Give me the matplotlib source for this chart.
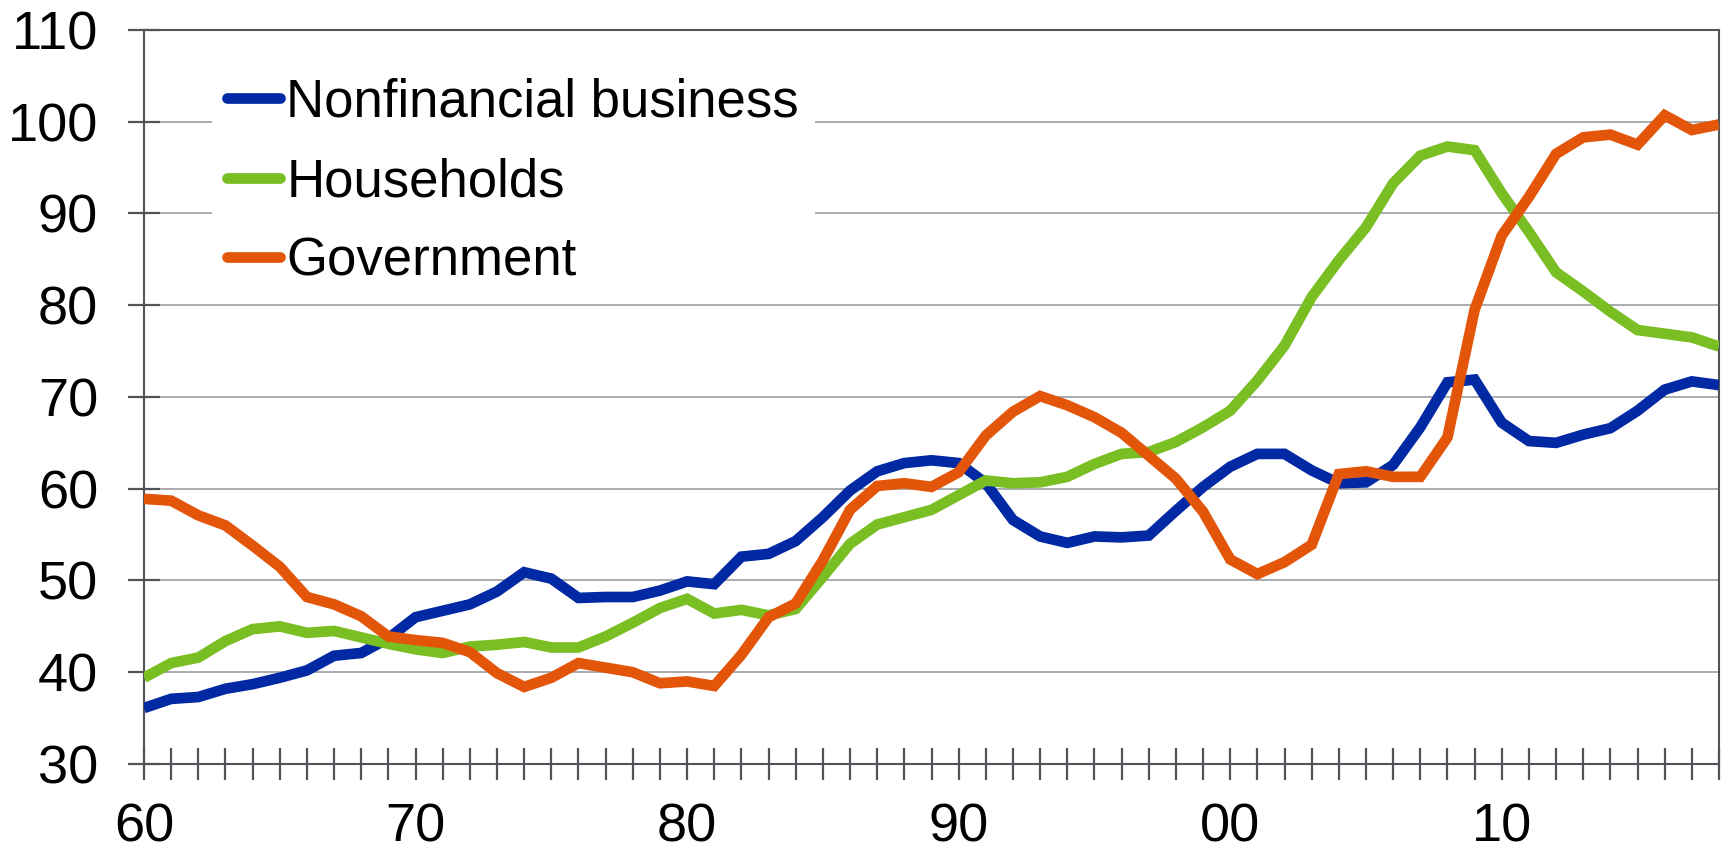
import matplotlib
matplotlib.use("Agg")
import matplotlib.pyplot as plt
from matplotlib.ticker import MultipleLocator, FuncFormatter

years = list(range(1960, 2019))

nonfinancial_business = [
    36.1, 37.1, 37.3, 38.2, 38.7, 39.4, 40.2, 41.8, 42.1, 43.7,
    46.0, 46.7, 47.4, 48.8, 50.9, 50.2, 48.1, 48.2, 48.2, 48.9,
    49.9, 49.6, 52.6, 52.9, 54.3, 56.9, 59.8, 61.9, 62.8, 63.1,
    62.8, 60.6, 56.6, 54.8, 54.1, 54.8, 54.7, 54.9, 57.6, 60.2,
    62.4, 63.8, 63.8, 62.0, 60.6, 60.7, 62.6, 66.7, 71.6, 71.9,
    67.2, 65.2, 65.0, 65.9, 66.6, 68.5, 70.8, 71.7, 71.3,
]

households = [
    39.4, 41.0, 41.6, 43.4, 44.7, 45.0, 44.3, 44.5, 43.8, 43.1,
    42.5, 42.1, 42.8, 43.0, 43.3, 42.7, 42.7, 43.9, 45.4, 47.0,
    48.0, 46.4, 46.8, 46.2, 46.9, 50.4, 54.0, 56.1, 56.9, 57.7,
    59.3, 60.9, 60.6, 60.7, 61.3, 62.7, 63.8, 64.0, 65.1, 66.7,
    68.5, 71.8, 75.6, 80.9, 84.9, 88.5, 93.3, 96.3, 97.3, 96.9,
    92.2, 88.0, 83.6, 81.5, 79.3, 77.3, 76.9, 76.5, 75.5,
]

government = [
    58.9, 58.7, 57.1, 56.0, 53.8, 51.5, 48.2, 47.4, 46.1, 43.9,
    43.5, 43.2, 42.2, 39.9, 38.4, 39.4, 41.0, 40.5, 40.0, 38.8,
    39.0, 38.5, 41.9, 46.0, 47.5, 52.2, 57.7, 60.3, 60.6, 60.2,
    61.8, 65.8, 68.4, 70.1, 69.1, 67.8, 66.1, 63.6, 61.1, 57.5,
    52.3, 50.7, 52.0, 53.9, 61.6, 61.9, 61.3, 61.3, 65.6, 79.5,
    87.6, 91.8, 96.5, 98.3, 98.6, 97.5, 100.7, 99.1, 99.7,
]

series_labels = ["Nonfinancial business", "Households", "Government"]
series_colors = ["#0029A3", "#79BE22", "#E3560A"]
y_ticks = [30, 40, 50, 60, 70, 80, 90, 100, 110]

plt.rcParams["font.family"] = ["Liberation Sans", "DejaVu Sans"]

fig = plt.figure(figsize=(17.25, 8.49), dpi=100)
ax = fig.add_axes([144 / 1725, 85 / 849, (1719 - 144) / 1725, (764 - 30) / 849])

for vals, lab, col in zip([nonfinancial_business, households, government],
                          series_labels, series_colors):
    ax.plot(years, vals, color=col, lw=7.7, label=lab,
            solid_joinstyle="miter", solid_capstyle="butt", zorder=3)

ax.set_xlim(1960, 2018)
ax.set_ylim(30, 110)
ax.set_yticks(y_ticks)
ax.xaxis.set_major_locator(MultipleLocator(10))
ax.xaxis.set_minor_locator(MultipleLocator(1))
ax.xaxis.set_major_formatter(FuncFormatter(lambda v, p: f"{int(round(v)) % 100:02d}"))

spine_col = "#505458"
for s in ax.spines.values():
    s.set_color(spine_col)
    s.set_linewidth(1.5)

ax.grid(axis="y", color="#92959a", lw=1.1, zorder=1)
ax.set_axisbelow(True)

ax.tick_params(axis="both", which="both", direction="inout", length=23,
               width=1.6, color=spine_col, labelsize=39)
ax.tick_params(axis="y", pad=21.5)
ax.tick_params(axis="x", which="both", pad=16)

leg = ax.legend(loc="upper left", bbox_to_anchor=(211.5 / 1725, 1 - 62 / 849),
                bbox_transform=fig.transFigure, fontsize=38, frameon=True,
                fancybox=False, borderpad=0.3, borderaxespad=0,
                handlelength=1.0, handletextpad=0.12, labelspacing=0.56)
leg.get_frame().set_facecolor("white")
leg.get_frame().set_edgecolor("none")
leg.get_frame().set_alpha(1)
for h in leg.get_lines():
    h.set_solid_capstyle("round")
    h.set_linewidth(7.7)

fig.savefig("out.png", dpi=100, facecolor="white")
